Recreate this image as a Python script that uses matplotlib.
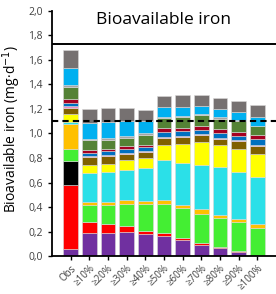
import matplotlib
matplotlib.use("Agg")
import matplotlib.pyplot as plt
import numpy as np

plt.rcParams['font.family'] = ['Open Sans', 'DejaVu Sans']

categories = ["Obs", "≥10%", "≥20%", "≥30%", "≥40%", "≥50%",
              "≥60%", "≥70%", "≥80%", "≥90%", "≥100%"]

# segment heights (mg/d), bottom to top
purple    = [0.057, 0.185, 0.190, 0.200, 0.180, 0.163, 0.130, 0.090, 0.062, 0.030, 0.000]
red       = [0.526, 0.094, 0.075, 0.044, 0.026, 0.022, 0.014, 0.018, 0.014, 0.013, 0.000]
black     = [0.192, 0.000, 0.000, 0.000, 0.000, 0.000, 0.000, 0.000, 0.000, 0.000, 0.000]
green     = [0.095, 0.136, 0.150, 0.184, 0.217, 0.243, 0.249, 0.239, 0.235, 0.236, 0.233]
orange    = [0.205, 0.025, 0.025, 0.027, 0.027, 0.027, 0.027, 0.033, 0.028, 0.021, 0.032]
cyan      = [0.015, 0.240, 0.245, 0.250, 0.270, 0.325, 0.342, 0.360, 0.387, 0.385, 0.380]
yellow    = [0.070, 0.060, 0.068, 0.075, 0.080, 0.128, 0.154, 0.189, 0.182, 0.191, 0.190]
brown     = [0.050, 0.067, 0.067, 0.055, 0.045, 0.052, 0.054, 0.056, 0.047, 0.062, 0.060]
pink      = [0.015, 0.008, 0.008, 0.008, 0.008, 0.010, 0.008, 0.007, 0.010, 0.005, 0.007]
blue      = [0.025, 0.025, 0.025, 0.027, 0.036, 0.040, 0.041, 0.038, 0.040, 0.035, 0.049]
darkred   = [0.030, 0.022, 0.022, 0.024, 0.021, 0.036, 0.027, 0.035, 0.033, 0.032, 0.033]
darkgreen = [0.100, 0.081, 0.075, 0.071, 0.080, 0.082, 0.089, 0.085, 0.082, 0.090, 0.076]
lightgray = [0.015, 0.014, 0.012, 0.013, 0.013, 0.010, 0.011, 0.010, 0.013, 0.006, 0.005]
skyblue   = [0.135, 0.130, 0.128, 0.122, 0.097, 0.076, 0.074, 0.068, 0.067, 0.067, 0.073]
gray      = [0.150, 0.113, 0.116, 0.106, 0.095, 0.095, 0.094, 0.089, 0.090, 0.095, 0.098]

layers = [purple, red, black, green, orange, cyan, yellow, brown, pink,
          blue, darkred, darkgreen, lightgray, skyblue, gray]
colors = ['#7030A0', '#FF0000', '#000000', '#44EE33', '#FFC000', '#2BE0E8',
          '#FFFF00', '#806000', '#F08CC8', '#0070C0', '#A50021', '#548235',
          '#A6A6A6', '#00B0F0', '#767171']

upper_line = 1.73
lower_line = 1.1

fig = plt.figure(figsize=(2.76, 2.94), dpi=100)
ax = fig.add_axes([0.188, 0.129, 0.812, 0.834])

x = np.arange(len(categories))
bottom = np.zeros(len(categories))
for vals, c in zip(layers, colors):
    ax.bar(x, vals, bottom=bottom, width=0.78, color=c,
           edgecolor='#d9d9d9', linewidth=0.4)
    bottom += np.array(vals)

ax.axhline(upper_line, color='black', lw=1.4)
ax.axhline(lower_line, color='black', lw=1.5, ls=(0, (3, 2)))

ax.set_xlim(-1, 11)
ax.set_ylim(0, 2.0)
ax.set_yticks(np.arange(0, 2.01, 0.2))
ax.set_yticklabels([f"{v:.1f}".replace('.', ',') for v in np.arange(0, 2.01, 0.2)])
ax.set_xticks(x)
ax.set_xticklabels(categories, rotation=45, ha='right', rotation_mode='anchor')
ax.tick_params(axis='both', labelsize=7.5, colors='#404040', direction='out',
               length=3, width=1)
ax.tick_params(axis='x', labelsize=7, pad=2)
ax.tick_params(axis='both', color='black')

for s in ['top', 'right']:
    ax.spines[s].set_visible(False)
for s in ['left', 'bottom']:
    ax.spines[s].set_linewidth(1.3)

ax.set_ylabel("Bioavailable iron (mg·d$^{-1}$)", fontsize=10)
ax.yaxis.set_label_coords(-0.13, 0.52)
ax.text(0.5, 0.995, "Bioavailable iron", transform=ax.transAxes,
        ha='center', va='top', fontsize=12.5)

fig.savefig("out.png", dpi=100)
